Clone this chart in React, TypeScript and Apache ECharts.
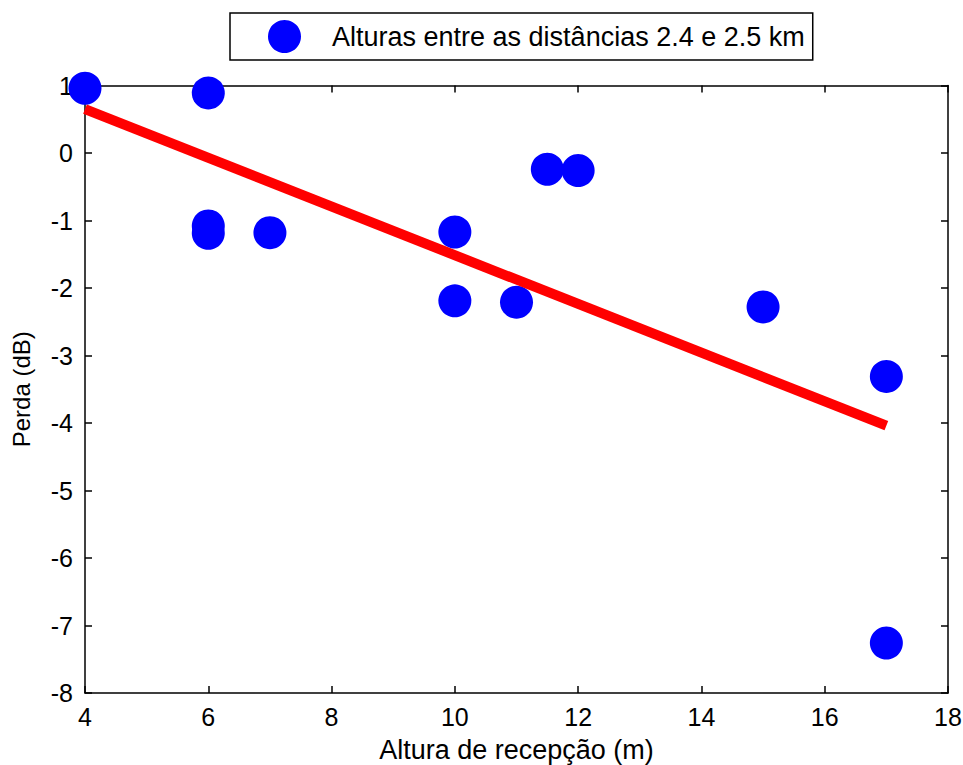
import React, { useEffect, useRef } from "react";
import * as echarts from "echarts";

const seriesName = "Alturas entre as distâncias 2.4 e 2.5 km";
const heights = [4, 6, 6, 6, 7, 10, 10, 11, 11.5, 12, 15, 17, 17];
const losses = [0.96, 0.89, -1.08, -1.19, -1.18, -1.17, -2.19, -2.21, -0.24, -0.26, -2.28, -3.31, -7.26];
const fitX = [4, 17];
const fitY = [0.65, -4.04];
const xTitle = "Altura de recepção (m)";
const yTitle = "Perda (dB)";

const FONT = "Liberation Sans, Arial, sans-serif";

export default function App() {
  const ref = useRef<HTMLDivElement>(null);
  useEffect(() => {
    if (!ref.current) return;
    const chart = echarts.init(ref.current, null, { renderer: "svg" });
    const pts = heights.map((h, i) => [h, losses[i]]);
    const fit = fitX.map((x, i) => [x, fitY[i]]);
    const axisCommon = {
      axisLine: { show: true, onZero: false, lineStyle: { color: "#000", width: 1.5 } },
      axisTick: { show: true, inside: true, length: 7, lineStyle: { color: "#000", width: 1.5 } },
      splitLine: { show: false },
    };
    chart.setOption({
      animation: false,
      backgroundColor: "#fff",
      textStyle: { fontFamily: FONT },
      grid: { left: 85, right: 15, top: 85.5, bottom: 72, outerBoundsMode: "none" },
      legend: {
        data: [seriesName],
        left: 230,
        top: 13,
        padding: [7, 8, 7, 38],
        itemWidth: 33,
        itemHeight: 33,
        borderColor: "#000",
        borderWidth: 1.5,
        borderRadius: 0,
        icon: "circle",
        textStyle: { fontSize: 27, color: "#000", fontFamily: FONT, padding: [0, 0, 0, 26] },
      },
      xAxis: [
        {
          type: "value",
          min: 4,
          max: 18,
          interval: 2,
          position: "bottom",
          name: xTitle,
          nameLocation: "middle",
          nameGap: 43,
          nameTextStyle: { fontSize: 27, color: "#000", fontFamily: FONT },
          axisLabel: { fontSize: 25, color: "#000", margin: 11, fontFamily: FONT },
          ...axisCommon,
        },
        {
          type: "value",
          min: 4,
          max: 18,
          interval: 2,
          position: "top",
          axisLabel: { show: false },
          ...axisCommon,
        },
      ],
      yAxis: [
        {
          type: "value",
          min: -8,
          max: 1,
          interval: 1,
          position: "left",
          name: yTitle,
          nameLocation: "middle",
          nameGap: 52,
          nameRotate: 90,
          nameTextStyle: { fontSize: 24, color: "#000", fontFamily: FONT },
          axisLabel: { fontSize: 25, color: "#000", margin: 12, fontFamily: FONT },
          ...axisCommon,
        },
        {
          type: "value",
          min: -8,
          max: 1,
          interval: 1,
          position: "right",
          axisLabel: { show: false },
          ...axisCommon,
        },
      ],
      series: [
        {
          name: seriesName,
          type: "scatter",
          data: pts,
          symbol: "circle",
          symbolSize: 33,
          itemStyle: { color: "#0000ff", opacity: 1 },
          clip: false,
          z: 2,
        },
        {
          name: "fit",
          type: "line",
          data: fit,
          showSymbol: false,
          symbol: "none",
          lineStyle: { color: "#ff0000", width: 10 },
          z: 3,
        },
      ],
    });
    return () => chart.dispose();
  }, []);
  return (
    <div
      ref={ref}
      style={{ position: "absolute", left: 0, top: 0, width: 963, height: 765 }}
    />
  );
}
